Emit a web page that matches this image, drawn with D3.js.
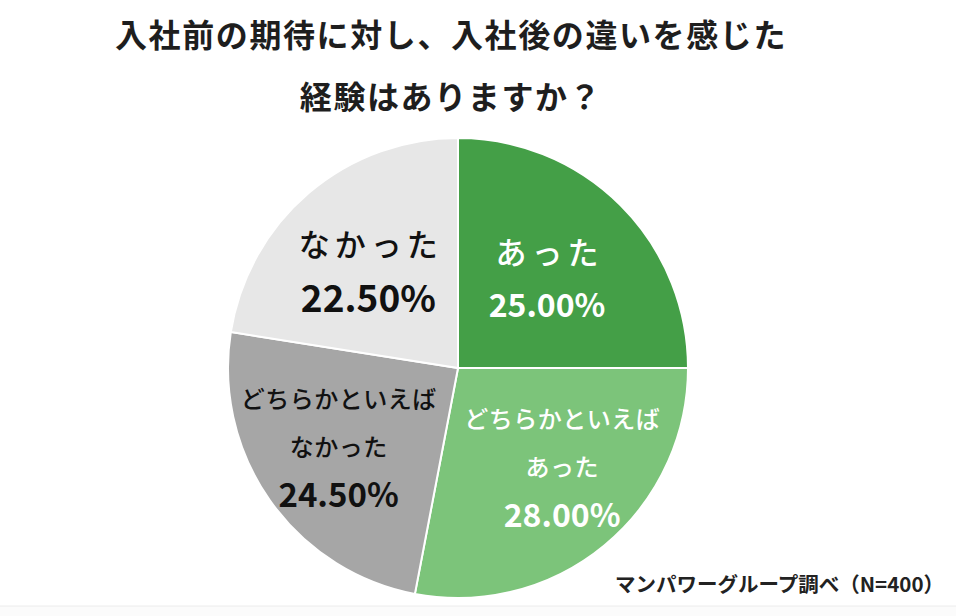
<!DOCTYPE html>
<html><head><meta charset="utf-8">
<script src="https://cdn.jsdelivr.net/npm/d3@7"></script>
<style>
html,body{margin:0;padding:0;background:#fff;}
svg{display:block;font-family:"Noto Sans CJK JP","Noto Sans",sans-serif;}
</style></head>
<body>
<svg id="chart" width="956" height="616"></svg>
<script>
const titleLines = ["入社前の期待に対し、入社後の違いを感じた", "経験はありますか？"];
const categories = [["あった"], ["どちらかといえば", "あった"], ["どちらかといえば", "なかった"], ["なかった"]];
const values = [25.0, 28.0, 24.5, 22.5];
const colors = ["#449f47", "#7cc47a", "#a6a6a6", "#e7e7e7"];
const textColors = ["#ffffff", "#ffffff", "#111111", "#111111"];
const source = "マンパワーグループ調べ（N=400）";

const svg = d3.select("#chart");
const W = 956, H = 616;
const cx = 458, cy = 368, R = 230;

// bottom band
svg.append("rect").attr("x",0).attr("y",606).attr("width",W).attr("height",H-606).attr("fill","#fbfbfb");
svg.append("line").attr("x1",0).attr("x2",W).attr("y1",606).attr("y2",606).attr("stroke","#ececec");

svg.selectAll("text.title").data(titleLines).join("text")
  .attr("class","title")
  .attr("x", 451).attr("y", (d,i)=> 47 + i*62)
  .attr("text-anchor","middle")
  .attr("font-size", 32).attr("font-weight", 700)
  .attr("letter-spacing", 1.6)
  .attr("fill","#1e1e1e")
  .text(d=>d);

const pie = d3.pie().sort(null).value(d=>d);
const arcs = pie(values);
const arc = d3.arc().innerRadius(0).outerRadius(R);
const g = svg.append("g").attr("transform",`translate(${cx},${cy})`);
g.selectAll("path").data(arcs).join("path")
  .attr("d", arc)
  .attr("fill", (d,i)=>colors[i])
  .attr("stroke","#fff").attr("stroke-width",2);

const labelArc = d3.arc().innerRadius(R*0.56).outerRadius(R*0.56);
const nudge = [[-2,0],[22,-2],[-14,3],[-6,-1]];
const pctSize = [32, 32, 33, 37];
const lbl = g.selectAll("g.lbl").data(arcs).join("g").attr("class","lbl")
  .attr("transform",(d,i)=>{const c = labelArc.centroid(d); return `translate(${c[0]+nudge[i][0]},${c[1]+nudge[i][1]})`;});
lbl.each(function(d,i){
  const sel = d3.select(this);
  const lines = categories[i];
  const n = lines.length + 1;
  const lh = lines.length > 1 ? 48 : 53;
  const y0 = -(n-1)*lh/2;
  lines.forEach((t,j)=>{
    const ls = lines.length>1 ? 0.5 : 5;
    sel.append("text").attr("x", ls/2).attr("y", y0 + j*lh)
      .attr("text-anchor","middle").attr("dominant-baseline","central")
      .attr("font-size", lines.length>1 ? 24 : 31)
      .attr("font-weight", 500)
      .attr("letter-spacing", ls)
      .attr("fill", textColors[i]).text(t);
  });
  sel.append("text").attr("x",0).attr("y", y0 + lines.length*lh)
    .attr("text-anchor","middle").attr("dominant-baseline","central")
    .attr("font-size", pctSize[i]).attr("font-weight", i>=2 ? 700 : 600)
    .attr("fill", textColors[i]).text(d3.format(".2f")(values[i]) + "%");
});

svg.append("text").attr("x", 944).attr("y", 583)
  .attr("text-anchor","end").attr("dominant-baseline","central")
  .attr("font-size", 20.5).attr("font-weight", 700).attr("fill","#222")
  .text(source);
</script>
</body></html>
